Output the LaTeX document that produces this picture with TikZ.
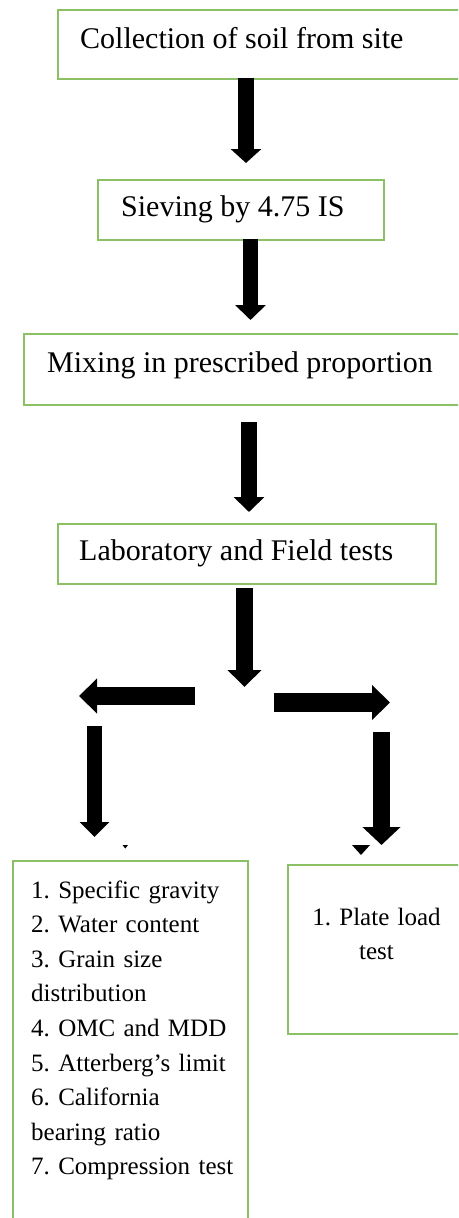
\documentclass[tikz,border=0pt]{standalone}
\usepackage{fontspec}
\setmainfont{Liberation Serif}
\usetikzlibrary{arrows.meta}
\definecolor{bgreen}{RGB}{140,192,100}
\frenchspacing
\tikzset{
  gbox/.style={draw=bgreen, line width=1.5pt, anchor=north west, inner sep=0pt},
  big/.style={font=\fontsize{30}{36}\selectfont, inner sep=0pt, anchor=base west},
  small/.style={font=\fontsize{25}{34.6}\selectfont\frenchspacing, inner sep=0pt, anchor=base west},
  barrow/.style n args={3}{line width=#1, -{Triangle[length=#2,width=#3]}}
}
\begin{document}
\begin{tikzpicture}[x=1pt,y=-1pt]
\useasboundingbox (0,0) rectangle (458,1218);
\clip (0,0) rectangle (458,1218);
% boxes
\node[gbox, minimum width=408pt, minimum height=69pt] (b1) at (57,9) {};
\node[gbox, minimum width=286pt, minimum height=60pt] (b2) at (97,179) {};
\node[gbox, minimum width=442pt, minimum height=71pt] (b3) at (23,333) {};
\node[gbox, minimum width=378pt, minimum height=60pt] (b4) at (57,523) {};
\node[gbox, minimum width=235pt, minimum height=370pt] (b5) at (12,860) {};
\node[gbox, minimum width=178pt, minimum height=169pt] (b6) at (287,864) {};
% texts
\node[big] (t1) at (80,48) {Collection of soil from site};
\node[big] (t2) at (121,216) {Sieving by 4.75 IS};
\node[big] (t3) at (47,372) {Mixing in prescribed proportion};
\node[big] (t4) at (79,560) {Laboratory and Field tests};
\node[small, text width=220pt, align=left] (t5) at (31,898) {1. Specific gravity\\2. Water content\\3. Grain size\\distribution\\4. OMC and MDD\\5. Atterberg's limit\\6. California\\bearing ratio\\7. Compression test};
\node[small, anchor=base, text width=150pt, align=center] (t6) at (376.5,925) {1. Plate load\\test};
% arrow end points
\coordinate (a1s) at (246,78);   \coordinate (a1e) at (246,163);
\coordinate (a2s) at (250.5,239); \coordinate (a2e) at (250.5,320);
\coordinate (a3s) at (249,422);  \coordinate (a3e) at (249,512);
\coordinate (a4s) at (244.5,588); \coordinate (a4e) at (244.5,687);
\coordinate (als) at (195,696);  \coordinate (ale) at (79,696);
\coordinate (ars) at (274,702.5); \coordinate (are) at (390,702.5);
\coordinate (lds) at (94.5,726); \coordinate (lde) at (94.5,837);
\coordinate (rds) at (381.5,732); \coordinate (rde) at (381.5,845);
% arrows
\draw[barrow={16pt}{14pt}{30pt}] (a1s) -- (a1e);
\draw[barrow={15pt}{15pt}{30pt}] (a2s) -- (a2e);
\draw[barrow={16pt}{15pt}{30pt}] (a3s) -- (a3e);
\draw[barrow={17pt}{17pt}{33pt}] (a4s) -- (a4e);
\draw[barrow={18pt}{18pt}{34pt}] (als) -- (ale);
\draw[barrow={19pt}{18pt}{34pt}] (ars) -- (are);
\draw[barrow={15pt}{15pt}{29pt}] (lds) -- (lde);
\draw[barrow={17pt}{18pt}{37pt}] (rds) -- (rde);
% small marks
\fill (122.5,845) -- (128,845) -- (125.3,848.5) -- cycle;
\fill (352,845) -- (370,845) -- (361,855) -- cycle;
\end{tikzpicture}
\end{document}
